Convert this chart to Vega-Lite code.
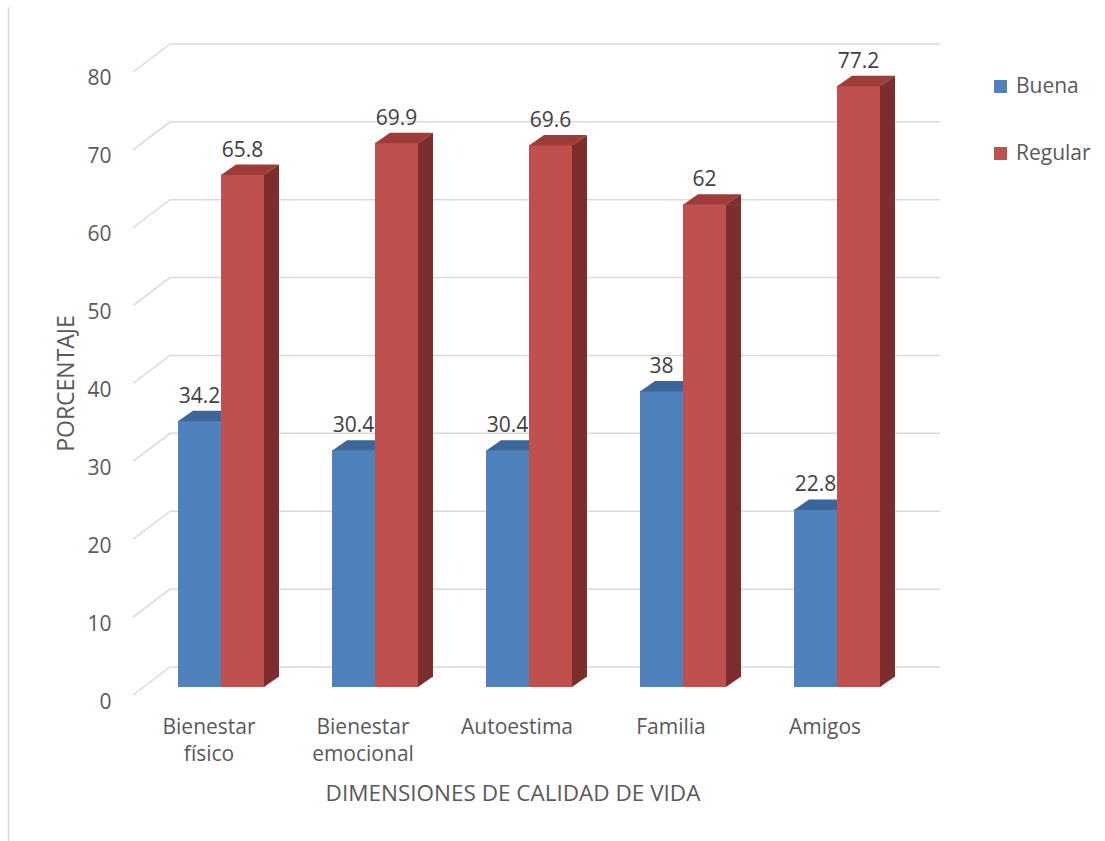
{
  "$schema": "https://vega.github.io/schema/vega-lite/v6.json",
  "width": 1097,
  "height": 834,
  "autosize": {"type": "none"},
  "padding": {"left": 8, "top": 7, "right": 0, "bottom": 0},
  "background": "white",
  "config": {"view": {"stroke": null}, "font": "Open Sans"},
  "datasets": {
    "valores": [
      {"dim": "Bienestar físico", "serie": "Buena", "valor": 34.2},
      {"dim": "Bienestar físico", "serie": "Regular", "valor": 65.8},
      {"dim": "Bienestar emocional", "serie": "Buena", "valor": 30.4},
      {"dim": "Bienestar emocional", "serie": "Regular", "valor": 69.9},
      {"dim": "Autoestima", "serie": "Buena", "valor": 30.4},
      {"dim": "Autoestima", "serie": "Regular", "valor": 69.6},
      {"dim": "Familia", "serie": "Buena", "valor": 38},
      {"dim": "Familia", "serie": "Regular", "valor": 62},
      {"dim": "Amigos", "serie": "Buena", "valor": 22.8},
      {"dim": "Amigos", "serie": "Regular", "valor": 77.2}
    ],
    "marcas": [
      {"v": 0}, {"v": 10}, {"v": 20}, {"v": 30}, {"v": 40},
      {"v": 50}, {"v": 60}, {"v": 70}, {"v": 80}
    ]
  },
  "layer": [
    {
      "mark": {"type": "rule", "color": "#d9d9d9", "strokeWidth": 1.5},
      "encoding": {"y": {"datum": 87.319}}
    },
    {
      "data": {"name": "marcas"},
      "mark": {"type": "rule", "color": "#d9d9d9", "strokeWidth": 1.5, "xOffset": -51, "x2Offset": 103, "yOffset": -20},
      "encoding": {
        "x": {"datum": "Bienestar físico"},
        "x2": {"datum": "Amigos"},
        "y": {"field": "v", "type": "quantitative"}
      }
    },
    {
      "data": {"name": "marcas"},
      "mark": {"type": "rule", "color": "#d9d9d9", "strokeWidth": 1.5, "xOffset": -88, "x2Offset": -51, "yOffset": 8, "y2Offset": -20},
      "encoding": {
        "x": {"datum": "Bienestar físico"},
        "x2": {"datum": "Bienestar físico"},
        "y": {"field": "v", "type": "quantitative"},
        "y2": {"field": "v"}
      }
    },
    {
      "data": {"name": "valores"},
      "mark": {"type": "bar"},
      "encoding": {
        "x": {
          "field": "dim",
          "type": "nominal",
          "scale": {
            "type": "band",
            "domain": ["Bienestar físico", "Bienestar emocional", "Autoestima", "Familia", "Amigos"],
            "range": [136, 906],
            "paddingInner": 0.4416,
            "paddingOuter": 0.2208
          },
          "axis": {
            "orient": "top",
            "title": "DIMENSIONES DE CALIDAD DE VIDA",
            "titleX": 504.5,
            "titleY": 793,
            "titleAlign": "center",
            "titleBaseline": "alphabetic",
            "titleFontSize": 22.5,
            "titleFontWeight": "normal",
            "titleColor": "#595959",
            "labelExpr": "split(datum.label, ' ')",
            "labelAngle": 0,
            "labelAlign": "center",
            "labelBaseline": "top",
            "labelPadding": -709,
            "labelOffset": -12,
            "labelLineHeight": 27,
            "labelFontSize": 21,
            "labelColor": "#595959",
            "labelLimit": 0,
            "ticks": false,
            "tickSize": 0,
            "grid": false,
            "domain": false
          }
        },
        "xOffset": {
          "field": "serie",
          "type": "nominal",
          "scale": {"domain": ["Buena", "Regular"], "paddingInner": 0, "paddingOuter": 0}
        },
        "y": {
          "field": "valor",
          "type": "quantitative",
          "scale": {"domain": [-19.775, 87.319], "nice": false, "zero": false},
          "axis": {
            "values": [0, 10, 20, 30, 40, 50, 60, 70, 80],
            "title": "PORCENTAJE",
            "titleX": 65,
            "titleY": 376,
            "titleAngle": -90,
            "titleAlign": "center",
            "titleBaseline": "alphabetic",
            "titleFontSize": 23,
            "titleFontWeight": "normal",
            "titleColor": "#595959",
            "labelFontSize": 21,
            "labelColor": "#595959",
            "labelAlign": "right",
            "labelBaseline": "middle",
            "labelPadding": -103,
            "labelOffset": 15,
            "ticks": false,
            "tickSize": 0,
            "grid": false,
            "domainColor": "#d9d9d9",
            "domainWidth": 1.5
          }
        },
        "color": {
          "field": "serie",
          "type": "nominal",
          "scale": {"domain": ["Buena", "Regular"], "range": ["#4F81BD", "#C0504D"]},
          "legend": {
            "orient": "none",
            "legendX": 982,
            "legendY": 69,
            "title": null,
            "padding": 0,
            "symbolType": "square",
            "symbolSize": 169,
            "symbolStrokeWidth": 0,
            "labelFontSize": 21,
            "labelColor": "#595959",
            "labelOffset": 5,
            "rowPadding": 45
          }
        }
      }
    },
    {
      "data": {"name": "valores"},
      "transform": [{"filter": "datum.serie === 'Buena'"}],
      "mark": {"type": "point", "filled": true, "opacity": 1, "size": 4, "strokeWidth": 0, "shape": "M-43,0.5L0,0.5L0,-10L-28,-10Z", "color": "#3C6599"},
      "encoding": {
        "x": {"field": "dim", "type": "nominal"},
        "y": {"field": "valor", "type": "quantitative"}
      }
    },
    {
      "data": {"name": "valores"},
      "transform": [{"filter": "datum.serie === 'Regular'"}],
      "mark": {"type": "point", "filled": true, "opacity": 1, "size": 4, "strokeWidth": 0, "shape": "M0,0.5L43,0.5L58,-10L15,-10Z", "color": "#9C3D3A"},
      "encoding": {
        "x": {"field": "dim", "type": "nominal"},
        "y": {"field": "valor", "type": "quantitative"}
      }
    },
    {
      "data": {"name": "valores"},
      "transform": [{"filter": "datum.serie === 'Regular'"}],
      "mark": {"type": "rule", "color": "#7C2E2C", "strokeWidth": 15, "xOffset": 50.5, "y2Offset": -10},
      "encoding": {
        "x": {"field": "dim", "type": "nominal"},
        "y": {"field": "valor", "type": "quantitative"},
        "y2": {"datum": 0}
      }
    },
    {
      "data": {"name": "valores"},
      "transform": [{"filter": "datum.serie === 'Regular'"}],
      "mark": {"type": "point", "filled": true, "opacity": 1, "size": 4, "strokeWidth": 0, "shape": "M43,0.5L58,-10L58,0.5Z", "color": "#7C2E2C"},
      "encoding": {
        "x": {"field": "dim", "type": "nominal"},
        "y": {"field": "valor", "type": "quantitative"}
      }
    },
    {
      "data": {"name": "valores"},
      "transform": [{"filter": "datum.serie === 'Regular'"}],
      "mark": {"type": "point", "filled": true, "opacity": 1, "size": 4, "strokeWidth": 0, "shape": "M43,-10.5L43,0L58,-10.5Z", "color": "#7C2E2C"},
      "encoding": {
        "x": {"field": "dim", "type": "nominal"},
        "y": {"datum": 0}
      }
    },
    {
      "data": {"name": "valores"},
      "mark": {"type": "text", "dy": -18, "baseline": "alphabetic", "align": "center", "fontSize": 21, "color": "#404040"},
      "encoding": {
        "x": {"field": "dim", "type": "nominal"},
        "xOffset": {"field": "serie", "type": "nominal"},
        "y": {"field": "valor", "type": "quantitative"},
        "text": {"field": "valor", "type": "quantitative", "format": "~g"}
      }
    }
  ]
}
